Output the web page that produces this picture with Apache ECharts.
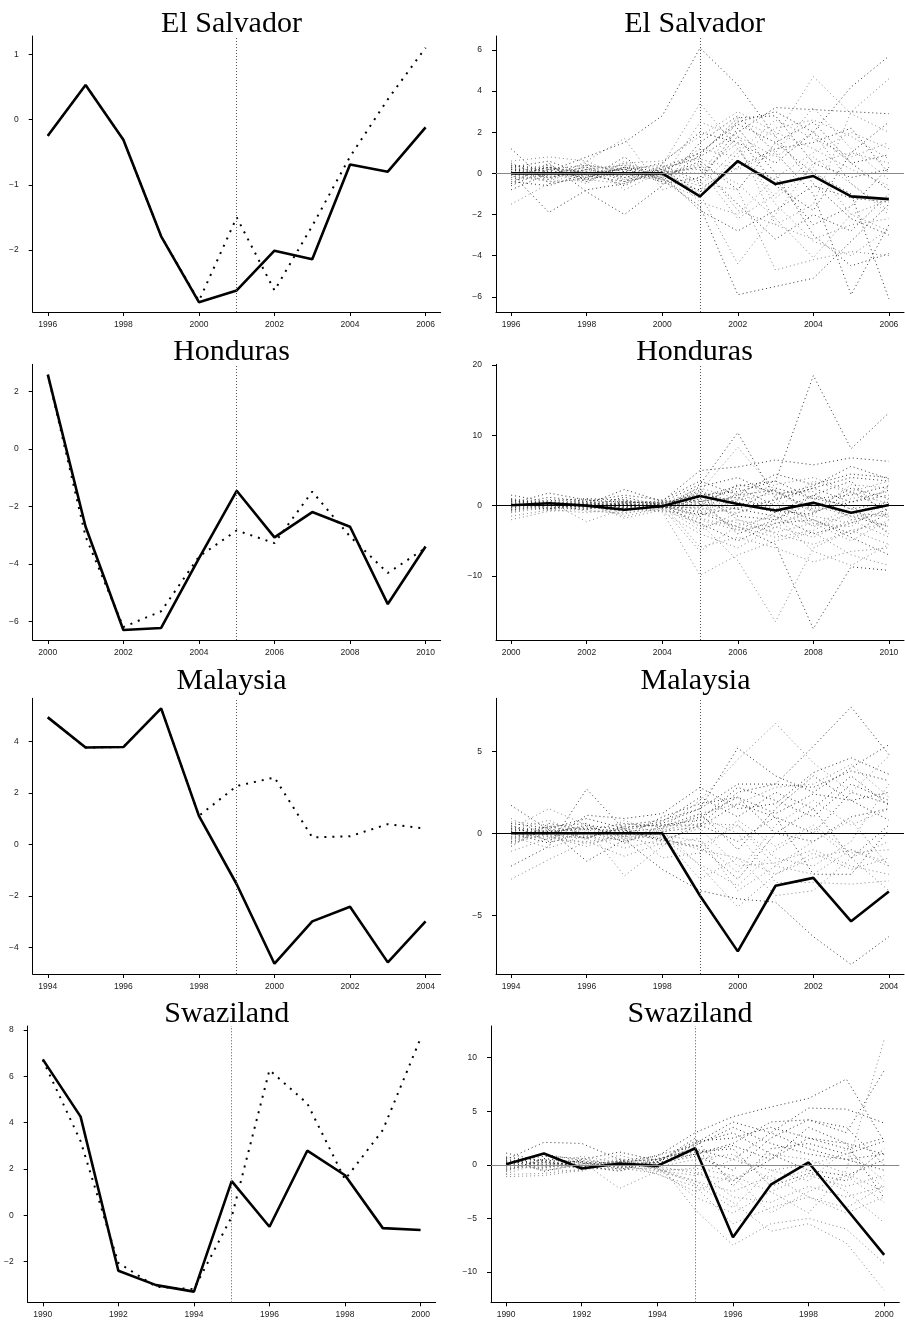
<!DOCTYPE html>
<html><head><meta charset="utf-8">
<script src="https://cdn.jsdelivr.net/npm/echarts@6/dist/echarts.min.js"></script>
<style>html,body{margin:0;padding:0;background:#fff}#c{width:905px;height:1325px}</style>
</head><body><div id="c"></div>
<script>
// ---------------- DATA ----------------
const elsYears = [1996,1997,1998,1999,2000,2001,2002,2003,2004,2005,2006];
const hndYears = [2000,2001,2002,2003,2004,2005,2006,2007,2008,2009,2010];
const mysYears = [1994,1995,1996,1997,1998,1999,2000,2001,2002,2003,2004];
const swzYears = [1990,1991,1992,1993,1994,1995,1996,1997,1998,1999,2000];

const elsTicksX = [1996,1998,2000,2002,2004,2006];
const hndTicksX = [2000,2002,2004,2006,2008,2010];
const mysTicksX = [1994,1996,1998,2000,2002,2004];
const swzTicksX = [1990,1992,1994,1996,1998,2000];

const elsTicksL = [-2,-1,0,1];
const elsTicksR = [-6,-4,-2,0,2,4,6];
const hndTicksL = [-6,-4,-2,0,2];
const hndTicksR = [-10,0,10,20];
const mysTicksL = [-4,-2,0,2,4];
const mysTicksR = [-5,0,5];
const swzTicksL = [-2,0,2,4,6,8];
const swzTicksR = [-10,-5,0,5,10];

// actual (solid) and synthetic (dotted)
const elsActual = [-0.25,0.53,-0.31,-1.79,-2.80,-2.62,-2.01,-2.14,-0.69,-0.80,-0.12];
const elsSynth  = [-0.25,0.53,-0.31,-1.79,-2.78,-1.50,-2.62,-1.63,-0.57,0.31,1.10];
const hndActual = [2.58,-2.71,-6.30,-6.23,-3.81,-1.46,-3.08,-2.20,-2.71,-5.40,-3.40];
const hndSynth  = [2.58,-3.05,-6.20,-5.65,-3.75,-2.84,-3.28,-1.49,-3.05,-4.32,-3.45];
const mysActual = [4.93,3.76,3.78,5.28,1.11,-1.54,-4.62,-2.98,-2.41,-4.57,-2.98];
const mysSynth  = [4.93,3.76,3.78,5.28,1.11,2.27,2.60,0.28,0.32,0.79,0.62];
const swzActual = [6.73,4.26,-2.39,-3.01,-3.29,1.48,-0.49,2.79,1.73,-0.55,-0.63];
const swzSynth  = [6.70,3.20,-2.05,-3.08,-3.18,-0.06,6.27,4.83,1.55,3.68,7.64];

// gaps (bold line, right panels)
const elsGap = [0,0,0,0,0,-1.12,0.60,-0.52,-0.13,-1.12,-1.25];
const hndGap = [0.05,0.35,0.0,-0.58,-0.08,1.38,0.25,-0.70,0.40,-1.00,0.10];
const mysGap = [0,0,0,0,0,-3.81,-7.20,-3.20,-2.72,-5.37,-3.55];
const swzGap = [0.05,1.06,-0.34,0.12,-0.10,1.55,-6.75,-1.85,0.22,-4.10,-8.40];

// placebo gaps (dotted, right panels)
const elsPlacebo = [
 [0.3,0.1,0.8,1.5,2.8,6.1,4.3,1.8,-0.5,-2.2,-3.0],
 [0.5,-0.3,0.4,0.2,0.4,3.4,1.2,-1.5,-3.3,-4.0,-2.7],
 [1.2,-0.5,-0.2,0.3,-0.3,-1.6,-5.9,-5.5,-5.1,-3.3,-1.5],
 [-1.5,-0.5,0.2,-0.3,0.1,-1.0,-4.4,-2.0,0.5,1.0,0.5],
 [0.0,-1.9,-0.8,-0.5,0.2,0.8,2.0,3.2,3.1,3.0,2.9],
 [0.6,0.8,0.6,1.7,-0.8,-0.2,2.6,1.8,4.7,2.9,2.0],
 [-0.5,0.5,-0.9,-2.0,-0.6,1.5,2.8,1.0,-1.0,-5.9,-2.5],
 [0.3,-0.2,0.2,0.4,0.2,-0.5,-0.8,-4.7,-4.2,-3.8,-4.0],
 [-0.2,0.3,-0.3,0.1,0.5,2.0,1.5,0.5,2.0,4.2,5.7],
 [0.1,-0.4,0.4,-0.3,-0.2,0.5,-1.8,-2.5,-1.5,3.0,4.6],
 [-0.3,0.2,0.1,-0.6,0.3,1.0,2.4,1.5,0.0,-1.0,-6.1],
 [0.4,0.1,-0.5,0.6,-0.4,-1.2,1.0,2.6,1.7,0.8,1.5],
 [-0.8,0.0,0.3,-0.4,0.0,0.3,-1.5,-3.2,-2.0,-2.8,-1.0],
 [0.2,0.4,-0.2,0.5,0.6,1.8,3.0,2.0,1.2,0.2,-0.6],
 [-0.4,-0.6,0.0,0.2,-0.3,-0.8,0.5,-0.3,-2.5,-1.6,0.3],
 [0.2,-0.1,0.5,-0.8,0.1,0.2,-2.2,-1.0,0.8,-0.5,-2.0],
 [-0.1,0.3,-0.3,0.8,-0.5,-0.2,1.8,-0.6,-1.8,1.0,2.5],
 [0.5,-0.3,0.6,-0.2,0.3,0.7,0.2,1.0,3.2,1.2,-0.3],
 [-0.6,0.2,-0.4,0.3,-0.1,-1.8,-2.8,-1.8,-0.6,-1.2,-1.4],
 [0.0,-0.2,0.1,-0.1,0.0,1.2,0.8,2.2,2.6,1.8,0.7],
 [0.3,0.6,-0.1,-0.4,0.4,-0.4,2.2,0.0,-3.0,-4.5,-3.9],
 [-0.2,-0.3,0.2,0.4,-0.2,0.4,-0.5,-2.2,-4.1,-2.0,-1.3],
 [0.2,0.1,-0.2,0.3,0.1,1.0,2.5,3.0,2.0,0.5,-0.8],
 [-0.3,-0.1,0.3,-0.2,-0.1,-0.6,1.2,-1.2,0.3,-2.0,-2.8],
 [0.1,0.3,0.0,0.2,-0.2,0.6,-0.8,1.5,2.5,0.5,0.9],
 [-0.1,-0.4,-0.3,-0.5,0.3,-1.4,-2.0,-0.2,1.0,2.0,1.2],
 [0.4,0.2,0.4,0.1,-0.4,0.9,2.7,2.8,0.5,-0.2,0.2],
 [-0.4,0.0,-0.1,0.0,0.1,0.0,1.5,-2.5,-3.2,-2.5,-2.2],
 [0.2,-0.2,0.2,-0.2,0.2,-0.9,0.3,1.2,1.5,2.2,0.0],
 [0.0,0.4,-0.4,0.5,-0.3,2.5,1.8,0.8,2.0,-0.5,-1.8]
];
const hndPlacebo = [
 [1.5,0.5,0.2,-0.3,0.5,3.0,10.4,1.0,2.5,0.5,1.5],
 [-2.0,-0.8,-0.5,0.3,-0.2,2.0,8.3,2.0,-1.0,3.0,2.5],
 [0.3,1.8,0.8,0.5,0.4,1.5,2.0,3.5,18.5,8.1,13.2],
 [-0.5,-0.3,0.5,-1.8,-0.6,-2.5,-7.8,-16.5,-6.0,-3.5,-2.5],
 [0.8,0.2,-0.4,0.6,0.2,-1.0,-3.0,-5.5,-17.5,-8.7,-9.2],
 [-0.6,0.4,0.3,-0.2,-0.8,-9.9,-7.0,-5.0,-3.8,-7.0,-8.5],
 [0.4,-0.5,0.2,2.3,0.6,5.0,5.5,6.5,5.8,6.8,6.3],
 [-0.3,0.6,-2.3,-0.4,0.3,-3.0,-2.0,-4.0,-5.5,-3.5,-5.5],
 [0.2,0.7,1.0,0.8,-0.3,2.7,4.0,1.5,2.8,5.6,3.8],
 [-1.0,-0.2,-0.6,-1.2,0.3,-5.9,-4.5,-6.0,-8.0,-6.5,-6.0],
 [0.6,0.0,-0.3,0.4,-0.4,1.0,-1.5,-2.0,0.5,-1.5,-3.0],
 [-0.4,0.9,0.5,-0.6,0.1,-1.5,1.0,3.0,4.0,2.0,3.5],
 [0.9,-0.4,0.2,0.3,0.7,0.5,2.5,0.0,-2.0,-4.0,-1.0],
 [-0.8,0.3,-0.8,-1.0,-0.5,-2.0,-3.5,-2.5,-1.0,1.0,2.0],
 [0.1,1.2,0.6,1.5,0.8,3.5,1.5,4.5,3.0,4.5,4.0],
 [-1.5,-0.6,-1.0,-0.3,-0.9,-4.0,-6.0,-3.0,-4.5,-2.0,-4.5],
 [0.5,0.1,0.9,0.0,0.2,1.8,0.5,-1.0,1.5,-0.5,0.5],
 [-0.2,-0.7,0.1,0.9,-0.2,-0.8,-2.5,-3.8,-2.5,-5.0,-2.0],
 [1.0,0.3,-0.2,-0.8,0.4,0.0,3.0,2.0,-0.5,2.5,1.0],
 [-0.7,0.5,0.4,0.2,-0.1,-3.5,-1.0,0.5,-3.0,-1.0,-1.5],
 [0.2,-0.2,-0.5,0.5,0.5,0.8,-4.0,-2.0,1.5,3.5,-2.0],
 [-0.1,0.4,0.7,-0.5,-0.7,-1.2,1.8,-0.5,-1.5,-2.5,3.0],
 [0.4,-0.1,-0.1,1.2,0.0,2.2,-0.5,2.5,1.0,0.0,-4.0],
 [-0.9,0.1,0.3,-1.5,-0.3,-6.5,-2.8,-1.5,-6.5,-8.5,-5.5],
 [0.3,0.2,-0.1,0.1,0.0,0.6,1.2,-0.8,-1.2,2.0,-0.8],
 [-0.2,0.0,0.2,-0.3,0.1,-0.4,-1.0,1.0,-2.5,-3.0,1.0],
 [0.0,0.3,0.1,0.2,-0.1,1.2,2.8,3.5,1.0,1.5,2.8],
 [0.1,-0.3,-0.2,0.0,0.2,-1.8,-3.0,-4.5,-3.5,-1.0,-3.0],
 [-0.3,0.2,0.3,-0.1,-0.2,0.3,-0.5,-1.5,-4.0,-2.5,-0.5],
 [0.5,-0.1,0.0,0.4,0.3,-0.6,0.8,1.8,2.0,-2.0,-1.2],
 [-0.6,0.1,-0.2,0.2,0.0,-2.5,-5.0,-2.5,-2.0,-4.5,-7.0],
 [0.2,0.6,0.4,0.6,0.2,2.5,1.0,-0.5,3.5,1.8,0.3],
 [0.0,-0.5,0.6,-0.4,-0.3,-0.2,1.5,2.2,-0.8,0.5,2.2],
 [-0.4,-0.2,-0.3,0.7,0.4,1.6,-2.0,-3.2,0.0,-1.5,-1.0],
 [0.7,0.3,0.1,-0.2,-0.1,-1.3,-0.3,0.8,2.5,4.0,3.5],
 [-0.1,0.0,0.4,0.3,0.1,0.2,-3.5,-1.0,-2.8,-0.3,-3.8]
];
const mysPlacebo = [
 [1.7,0.2,-0.3,0.5,0.8,1.5,5.2,3.5,2.5,4.0,5.4],
 [-2.8,-1.6,-0.5,-0.2,0.3,2.0,4.5,6.7,4.3,2.5,4.7],
 [-2.0,-0.8,2.7,0.2,-0.5,0.5,2.5,3.0,5.3,7.7,4.8],
 [0.3,1.5,0.5,-0.3,0.2,-2.0,-4.5,-2.5,-1.5,-1.0,-2.0],
 [-0.5,0.2,-1.7,-0.4,-2.2,-3.5,-4.0,-4.2,-6.3,-8.0,-6.3],
 [-1.1,-0.3,0.3,-2.6,-0.8,1.0,0.0,-3.0,-3.0,-3.1,-2.9],
 [0.5,-0.5,1.1,0.9,1.2,2.8,1.5,1.8,3.7,4.6,3.6],
 [0.2,0.8,-0.2,0.3,-0.3,-1.9,-3.2,-1.0,0.3,-1.5,-0.5],
 [-0.3,0.4,0.6,-0.6,0.5,0.8,2.8,2.0,1.0,3.0,2.0],
 [0.9,-0.2,-0.8,0.1,-0.1,-0.5,-2.4,0.5,2.0,0.5,1.5],
 [-0.8,0.6,0.2,0.6,0.4,1.2,-1.0,1.5,3.5,2.0,0.8],
 [0.1,-0.4,-0.5,-1.4,-0.6,-0.8,0.5,-1.5,-2.0,-0.5,3.0],
 [0.6,0.3,0.9,0.3,0.7,2.2,1.0,2.5,1.5,3.5,1.7],
 [-0.2,-0.9,-0.1,-0.9,-0.4,0.3,-2.0,-1.8,-1.0,-2.0,-2.5],
 [0.4,0.1,0.4,-0.2,1.0,1.8,2.2,0.0,-0.5,1.0,1.5],
 [-0.4,0.3,-0.3,0.4,-1.5,-1.2,0.8,-0.8,0.5,-1.2,-1.0],
 [0.0,-0.6,0.1,-0.5,0.1,0.4,1.8,1.0,-2.5,-2.5,0.2],
 [0.7,0.5,-0.4,0.8,-0.2,-2.8,-1.5,-3.8,-3.5,-1.5,-3.5],
 [-0.6,0.0,0.5,0.2,0.6,1.5,3.0,3.0,2.8,3.8,3.2],
 [0.3,-0.2,-0.6,-0.3,-0.7,-0.3,-3.5,-2.0,-0.5,0.8,-2.0],
 [0.2,0.1,0.3,0.1,0.3,1.0,2.2,1.2,2.4,2.0,2.5],
 [-0.1,-0.2,0.0,-0.2,-0.3,-1.0,-1.5,-2.5,-1.2,-2.2,-1.5],
 [0.3,-0.1,-0.3,0.4,0.5,0.5,-0.5,1.0,0.0,2.5,1.8],
 [-0.3,0.2,0.2,-0.1,0.0,1.2,1.8,2.8,3.0,4.2,2.2],
 [0.1,0.4,0.0,0.2,-0.4,-0.8,-2.8,0.0,1.5,-1.5,0.5],
 [-0.2,-0.3,-0.2,-0.4,0.2,0.6,0.5,-2.0,-2.5,-1.0,-1.8]
];
const swzPlacebo = [
 [1.1,0.3,-0.2,0.4,0.8,3.0,4.5,5.4,6.2,8.0,2.2],
 [-1.1,-1.0,-0.5,0.2,0.3,-4.2,-7.5,-5.5,-5.0,-6.0,-9.2],
 [0.5,2.1,2.0,0.5,-0.3,2.0,4.0,3.0,5.3,5.2,3.9],
 [-0.5,0.5,0.3,-2.2,-0.6,-1.5,-3.5,-6.2,-5.5,-7.3,-11.7],
 [0.2,-0.3,0.5,1.2,0.4,1.0,2.0,4.0,4.2,3.0,8.8],
 [-0.3,0.4,-0.4,-0.3,-0.8,-2.5,-1.0,-2.5,-4.5,-0.5,11.7],
 [0.6,-0.6,0.1,0.3,0.5,1.5,-1.5,0.5,3.5,2.0,-3.1],
 [-0.8,0.2,-0.2,-0.5,-0.2,0.5,1.0,-1.5,-0.5,-2.5,-5.4],
 [0.3,0.8,0.6,-0.1,0.2,2.5,-2.0,1.5,2.0,1.0,2.2],
 [0.0,-0.4,-0.6,0.5,-0.4,-0.5,-3.0,-3.5,-2.0,-3.0,-2.0],
 [-0.2,1.0,0.4,0.0,0.9,1.8,3.5,2.0,1.0,0.5,1.0],
 [0.8,-0.1,-0.3,0.6,-0.5,-1.0,0.5,-0.5,-1.5,1.5,-1.5],
 [-0.6,0.6,0.2,-0.4,0.1,0.8,-0.5,2.5,4.2,3.5,0.0],
 [0.4,-0.2,0.8,0.2,-0.9,-2.0,-5.5,-4.0,-3.0,-4.5,-3.0],
 [-0.4,0.3,-0.1,-0.6,0.6,1.2,1.5,-2.0,-0.8,-1.5,1.5],
 [0.1,-0.5,0.0,0.9,-0.1,-0.8,-1.5,1.0,0.5,-0.8,-2.5],
 [0.7,0.4,0.3,-0.2,0.3,2.2,2.5,3.5,2.5,1.5,2.5],
 [-0.9,-0.8,-0.4,0.3,-0.3,-3.0,-4.5,-2.5,-1.0,-2.0,-1.0],
 [0.2,0.2,-0.1,0.1,0.2,1.0,1.8,0.5,2.5,2.0,1.0],
 [-0.3,-0.2,0.2,-0.2,-0.4,-1.5,-2.5,-1.0,-3.0,-4.0,-2.0],
 [0.1,0.5,-0.3,0.3,0.5,1.5,0.5,3.0,1.5,0.5,-0.5],
 [-0.1,-0.3,0.1,-0.1,-0.6,-0.3,-1.0,-4.5,-2.5,-1.0,-3.5],
 [0.4,0.0,0.3,-0.3,0.3,2.0,3.0,1.0,-0.5,-1.0,0.5],
 [-0.5,0.1,-0.3,0.2,-0.3,-1.8,-4.0,-0.5,0.0,1.0,-2.2]
];

const titles = ['El Salvador','Honduras','Malaysia','Swaziland'];
const treatYears = [2001, 2005, 1999, 1995];

// ---------------- LAYOUT ----------------
const panels = [
  {kind:'L', title:titles[0], years:elsYears, xt:elsTicksX, yt:elsTicksL, ymin:-2.95, ymax:1.28, actual:elsActual, synth:elsSynth, treat:treatYears[0], g:{left:32.7, top:36, width:408, height:276}, tx:226.5, ty:4},
  {kind:'R', title:titles[0], years:elsYears, xt:elsTicksX, yt:elsTicksR, ymin:-6.74, ymax:6.68, gap:elsGap, placebo:elsPlacebo, treat:treatYears[0], zc:'#888', g:{left:496, top:36, width:408, height:276}, tx:689.7, ty:4},
  {kind:'L', title:titles[1], years:hndYears, xt:hndTicksX, yt:hndTicksL, ymin:-6.65, ymax:2.94, actual:hndActual, synth:hndSynth, treat:treatYears[1], g:{left:32.7, top:364.3, width:408, height:275.7}, tx:226.5, ty:332},
  {kind:'R', title:titles[1], years:hndYears, xt:hndTicksX, yt:hndTicksR, ymin:-19.1, ymax:20.1, gap:hndGap, placebo:hndPlacebo, treat:treatYears[1], zc:'#000', g:{left:496, top:364.3, width:408, height:275.7}, tx:689.5, ty:332},
  {kind:'L', title:titles[2], years:mysYears, xt:mysTicksX, yt:mysTicksL, ymin:-5.02, ymax:5.67, actual:mysActual, synth:mysSynth, treat:treatYears[2], g:{left:32.7, top:698.3, width:408, height:275.7}, tx:226.5, ty:661},
  {kind:'R', title:titles[2], years:mysYears, xt:mysTicksX, yt:mysTicksR, ymin:-8.58, ymax:8.23, gap:mysGap, placebo:mysPlacebo, treat:treatYears[2], zc:'#000', g:{left:496, top:698.3, width:408, height:275.7}, tx:690.5, ty:661},
  {kind:'L', title:titles[3], years:swzYears, xt:swzTicksX, yt:swzTicksL, ymin:-3.75, ymax:8.17, actual:swzActual, synth:swzSynth, treat:treatYears[3], g:{left:27.7, top:1026, width:408, height:276.3}, tx:221.7, ty:994},
  {kind:'R', title:titles[3], years:swzYears, xt:swzTicksX, yt:swzTicksR, ymin:-12.83, ymax:12.96, gap:swzGap, placebo:swzPlacebo, treat:treatYears[3], zc:'#888', g:{left:491, top:1026, width:408.3, height:276.3}, tx:685, ty:994}
];

const fmt = v => String(v).replace('-', '\u2212');
const pair = (xs, ys) => xs.map((x, i) => [x, ys[i]]);

const option = {
  animation:false,
  backgroundColor:'#fff',
  title:[], grid:[], xAxis:[], yAxis:[], series:[]
};

panels.forEach((p, i) => {
  option.title.push({
    text:p.title, left:p.tx, top:p.ty, textAlign:'center',
    textStyle:{fontFamily:'Liberation Serif', fontSize:30, fontWeight:'normal', color:'#000'}
  });
  option.grid.push(Object.assign({outerBoundsMode:'none', containLabel:false}, p.g));
  const x0 = p.years[0], x1 = p.years[p.years.length-1];
  option.xAxis.push({
    gridIndex:i, type:'value', min:x0-0.4, max:x1+0.4,
    axisLine:{show:true, onZero:false, lineStyle:{color:'#000', width:1}},
    axisTick:{show:true, length:4, customValues:p.xt, lineStyle:{color:'#000', width:1}},
    axisLabel:{customValues:p.xt, fontSize:8.5, color:'#222', margin:8, fontFamily:'Liberation Sans', formatter:v=>fmt(v)},
    splitLine:{show:false}
  });
  option.yAxis.push({
    gridIndex:i, type:'value', min:p.ymin, max:p.ymax,
    axisLine:{show:true, onZero:false, lineStyle:{color:'#000', width:1}},
    axisTick:{show:true, length:4, customValues:p.yt, lineStyle:{color:'#000', width:1}},
    axisLabel:{customValues:p.yt, fontSize:8.5, color:'#222', margin:14, fontFamily:'Liberation Sans', formatter:v=>fmt(v)},
    splitLine:{show:false}
  });
  const vline = {xAxis:p.treat, lineStyle:{color:'#555', width:1, type:[1,2]}};
  if (p.kind === 'L') {
    option.series.push({
      type:'line', xAxisIndex:i, yAxisIndex:i, data:pair(p.years, p.synth), symbol:'none', silent:true, z:3,
      lineStyle:{color:'#000', width:2, type:[2,6]}
    });
    option.series.push({
      type:'line', xAxisIndex:i, yAxisIndex:i, data:pair(p.years, p.actual), symbol:'none', silent:true, z:4,
      lineStyle:{color:'#000', width:2.6},
      markLine:{silent:true, symbol:['none','none'], label:{show:false}, animation:false, data:[vline]}
    });
  } else {
    p.placebo.forEach((row, k) => {
      option.series.push({
        type:'line', xAxisIndex:i, yAxisIndex:i, data:pair(p.years, row), symbol:'none', silent:true, z:2,
        lineStyle:{color:(k % 2 ? '#888' : '#333'), width:1, type:[1,3]}
      });
    });
    option.series.push({
      type:'line', xAxisIndex:i, yAxisIndex:i, data:pair(p.years, p.gap), symbol:'none', silent:true, z:4,
      lineStyle:{color:'#000', width:2.6},
      markLine:{silent:true, symbol:['none','none'], label:{show:false}, animation:false,
        data:[vline, {yAxis:0, lineStyle:{color:p.zc, width:1.2, type:'solid'}}]}
    });
  }
});

const chart = echarts.init(document.getElementById('c'), null, {renderer:'canvas'});
chart.setOption(option);
</script>
</body></html>
